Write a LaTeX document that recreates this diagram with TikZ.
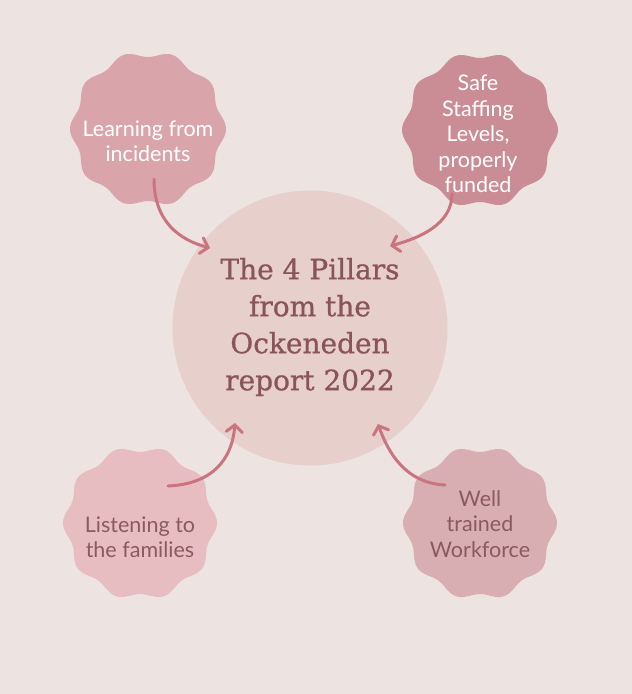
\documentclass[tikz,border=0pt]{standalone}
\usepackage{fontspec}
\setmainfont{Lato}
\newfontfamily\slabfont[FakeBold=0.8]{DejaVu Serif}
\usetikzlibrary{arrows.meta}
\definecolor{bgc}{HTML}{EDE3E0}
\definecolor{circc}{HTML}{E7CFCC}
\definecolor{tlc}{HTML}{D9A5AA}
\definecolor{trc}{HTML}{CA8D95}
\definecolor{blc}{HTML}{E8BDC1}
\definecolor{brc}{HTML}{D8AEB2}
\definecolor{arrc}{HTML}{C9747E}
\definecolor{txtdark}{HTML}{8A5A60}
\definecolor{titlec}{HTML}{8A5558}
\tikzset{
  pillartext/.style={align=center, font=\fontsize{21.5}{25.5}\selectfont, inner sep=0pt},
  titletext/.style={align=center, font=\slabfont\fontsize{28}{37}\selectfont, text=titlec, inner sep=0pt},
  conn/.style={draw=arrc, line width=3pt, line cap=round, -{Straight Barb[length=7pt,width=16pt,line width=3pt,line cap=round]}},
}
\newcommand{\wavyshape}[4]{% x, y, color, radius
  \fill[#3] plot[domain=0:360, samples=240, smooth] ({#1+(#4+3*cos(10*\x))*cos(\x)}, {#2+(#4+3*cos(10*\x))*sin(\x)}) -- cycle;
}
\begin{document}
\begin{tikzpicture}[x=1pt, y=-1pt]
\useasboundingbox (0,0) rectangle (632,694);
\fill[bgc] (0,0) rectangle (632,694);
% central circle
\fill[circc] (310,328) circle[radius=137.5];
\node[titletext] (title) at (310,327) {The 4 Pillars\\from the\\Ockeneden\\report 2022};
% scalloped shapes
\wavyshape{148}{129}{tlc}{75}
\wavyshape{480}{130}{trc}{75}
\wavyshape{140}{523}{blc}{74}
\wavyshape{480}{523}{brc}{74}
\node[pillartext, text=white] (learn) at (148,141) {Learning from\\incidents};
\node[pillartext, text=white] (safe) at (478,134) {Safe\\Staffing\\Levels,\\properly\\funded};
\node[pillartext, text=txtdark] (listen) at (140,537) {Listening to\\the families};
\node[pillartext, text=txtdark] (well) at (480,524) {Well\\trained\\Workforce};
% connectors
\coordinate (a1s) at (154,179);
\coordinate (a1e) at (210,248);
\coordinate (a2s) at (452,194);
\coordinate (a2e) at (390,246);
\coordinate (a3s) at (168,486);
\coordinate (a3e) at (235,423);
\coordinate (a4s) at (445,485);
\coordinate (a4e) at (378,424);
\draw[conn] (a1s) .. controls (154,222) and (180,240) .. (a1e);
\draw[conn] (a2s) .. controls (452,224) and (420,238) .. (a2e);
\draw[conn] (a3s) .. controls (212,484) and (232,460) .. (a3e);
\draw[conn] (a4s) .. controls (405,483) and (388,452) .. (a4e);
\end{tikzpicture}
\end{document}
